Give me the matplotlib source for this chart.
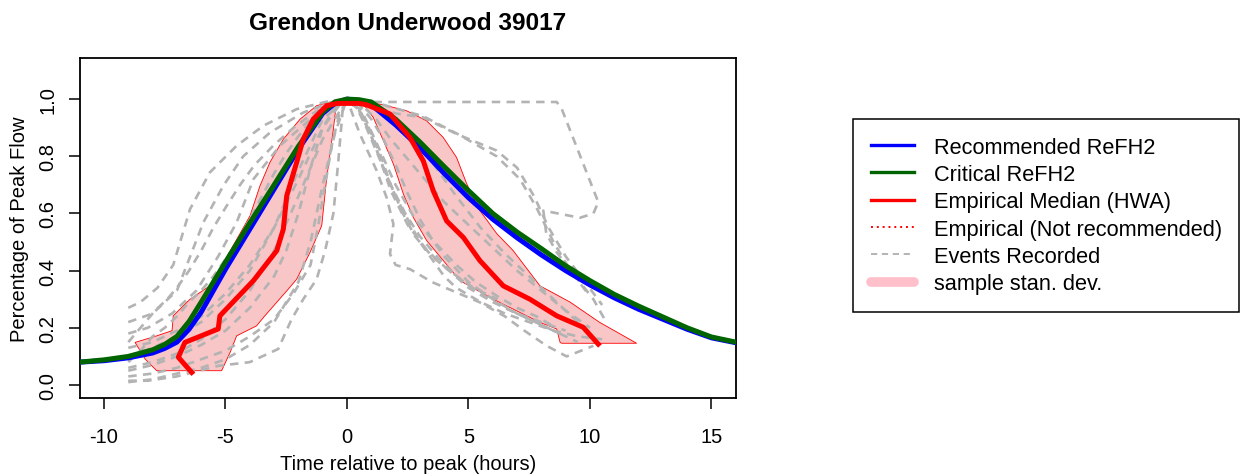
import matplotlib.pyplot as plt
from matplotlib.lines import Line2D

plt.rcParams['font.family'] = ['Liberation Sans', 'DejaVu Sans']
plt.rcParams['axes.unicode_minus'] = False

# ReFH2 design hydrographs, fraction of peak flow vs hours from peak
refh_t = [-11, -10, -9, -8, -7.5, -7, -6.5, -6, -5.5, -5, -4, -3, -2, -1, -0.5, 0, 0.5,
          1, 2, 3, 4, 5, 6, 7, 8, 9, 10, 11, 12, 13, 14, 15, 16]
recommended_v = [0.08, 0.085, 0.095, 0.112, 0.128, 0.15, 0.195, 0.255, 0.33, 0.405,
                 0.545, 0.685, 0.825, 0.95, 0.985, 1.0, 0.995, 0.98, 0.91, 0.83, 0.74,
                 0.655, 0.58, 0.515, 0.455, 0.40, 0.35, 0.305, 0.265, 0.23, 0.195,
                 0.165, 0.148]
critical_v = [0.08, 0.088, 0.10, 0.123, 0.142, 0.17, 0.222, 0.29, 0.36, 0.43, 0.567,
              0.70, 0.835, 0.955, 0.99, 1.0, 0.998, 0.99, 0.93, 0.85, 0.764, 0.68, 0.60,
              0.535, 0.477, 0.417, 0.365, 0.317, 0.276, 0.238, 0.20, 0.168, 0.15]

# empirical median hydrograph (HWA)
median_t = [-6.39, -6.94, -6.67, -5.30, -5.23, -3.85, -2.89, -2.62, -2.48, -2.07,
            -1.8, -1.39, -0.84, -0.4, 0.5, 0.81, 1.77, 2.59, 3.14, 3.55, 4.1, 4.79,
            5.47, 6.43, 7.53, 8.63, 9.72, 10.34]
median_v = [0.044, 0.097, 0.149, 0.196, 0.242, 0.365, 0.47, 0.545, 0.662, 0.779,
            0.86, 0.93, 0.977, 0.985, 0.985, 0.98, 0.948, 0.866, 0.784, 0.679, 0.574,
            0.516, 0.435, 0.347, 0.30, 0.242, 0.202, 0.143]

# sample standard deviation envelope, rising and falling limbs
rise_band_t = [-7.83, -8.3, -8.72, -7.9, -7.2, -7.15, -6.46, -5.64, -4.8, -3.99, -3.58,
               -3.17, -2.62, -1.93, -1.25, -0.7, -0.43, -0.56, -0.84, -1.04, -1.52,
               -2.07, -2.41, -3.4, -3.72, -4.54, -4.81, -5.16]
rise_band_v = [0.05, 0.09, 0.149, 0.17, 0.19, 0.242, 0.30, 0.347, 0.47, 0.592, 0.697,
               0.779, 0.86, 0.93, 0.977, 0.99, 0.99, 0.895, 0.72, 0.557, 0.464, 0.37,
               0.336, 0.24, 0.207, 0.172, 0.114, 0.05]
fall_band_t = [0.5, 1.5, 2.46, 3.28, 3.96, 4.51, 4.93, 5.47, 6.16, 6.84, 7.94, 9.18,
               10.4, 11.92, 8.84, 8.77, 8.63, 7.94, 6.02, 4.65, 3.28, 2.73, 2.32, 1.91,
               1.5, 1.08, 0.67]
fall_band_v = [0.995, 0.98, 0.959, 0.924, 0.866, 0.796, 0.703, 0.61, 0.53, 0.47, 0.347,
               0.29, 0.219, 0.146, 0.146, 0.149, 0.196, 0.219, 0.30, 0.365, 0.505, 0.586,
               0.668, 0.773, 0.854, 0.936, 0.983]

# recorded events
event_t = [
    [-9, -8.5, -7.8, -7.15, -6.46, -5.64, -4.54, -3.44, -2.07, -0.7, 0, 0.6, 1.2, 1.8,
     2.5, 3.3, 4.2, 5.2, 6.2],
    [-9, -8, -7, -5.91, -5.09, -4.27, -3.17, -1.8, -0.6, 0, 0.6, 1.2, 2.0, 2.8, 3.6,
     4.5, 5.3, 6.2, 7.0, 7.8, 8.6],
    [-9, -8.2, -7.2, -6.2, -5.3, -4.54, -3.85, -2.76, -1.5, -0.5, 0, 0.7, 1.5, 2.5, 3.5,
     4.5, 5.5, 6.5, 7.5, 8.5, 9.5],
    [-9, -8, -7, -6, -5, -4, -3, -2, -1, -0.3, 0, 2, 4, 6, 8.63, 8.84, 10.34, 10.14,
     9.59, 8.08, 8.2, 8.63, 9.4, 10.14, 10.6],
    [-9, -8, -7, -6, -5, -4, -3, -2, -1, 0, 1, 2, 3.14, 4.51, 6.16, 7.0, 7.7, 8.3, 9.0,
     9.8, 10.5],
    [-9, -8.2, -7, -5.3, -4.0, -2.83, -2.28, -1.8, -1.25, -0.9, -0.56, -0.36, -0.16, 0,
     0.53, 1.22, 1.63, 1.91, 1.77, 2.0, 2.6, 3.5, 4.5, 5.47, 6.5, 7.3, 8.22, 9.04, 10.14],
    [-9, -8, -7, -6, -5, -4, -3, -2.5, -2, -1.5, -1, -0.5, 0, 0.5, 1, 1.5, 2, 2.5, 3,
     3.5, 4, 5, 6, 7, 8, 9],
    [-9, -8, -7, -6, -5, -4, -3, -2.2, -1.5, -1.2, -0.9, -0.6, -0.3, 0, 0.4, 0.8, 1.3,
     1.8, 2.4, 3, 3.7, 4.5, 5.5, 6.5, 7.5, 8.5, 9.5],
    [-9, -8.5, -8, -7.5, -7, -6.5, -6, -5.5, -5, -4.5, -4, -3.5, -3, -2.5, -2, -1.5, -1,
     -0.5, 0, 0.6, 1.2, 1.8, 2.5, 3.2, 4, 5, 6, 7, 8, 9, 10],
    [-9, -8, -7, -6, -5, -4, -3, -2, -1.5, -1, -0.5, 0, 0.5, 1, 1.5, 2, 2.5, 3, 3.5, 4,
     4.5, 5.5, 6.5, 7.5, 8.5, 9.5, 10.5],
    [-9, -8.7, -8.3, -7.9, -7.4, -7.0, -6.5, -6.0, -5.5, -5.0, -4.4, -3.8, -3.0, -2.2,
     -1.4, -0.6, 0, 0.4, 0.9, 1.4, 1.8, 2.3, 2.8, 3.5, 4.2, 5, 6, 7, 8, 9],
    [-9, -8, -7, -6, -5, -4, -3, -2, -1, 0, 1.5, 3.14, 4.51, 6.16, 7.12, 7.8, 8.5, 9.2,
     10.0],
]
event_v = [
    [0.27, 0.29, 0.34, 0.42, 0.615, 0.744, 0.837, 0.907, 0.965, 0.994, 1.0, 0.95, 0.83,
     0.68, 0.56, 0.47, 0.40, 0.34, 0.30],
    [0.22, 0.25, 0.33, 0.569, 0.697, 0.80, 0.883, 0.953, 0.99, 1.0, 0.96, 0.85, 0.70,
     0.58, 0.50, 0.42, 0.36, 0.31, 0.27, 0.24, 0.20],
    [0.18, 0.20, 0.25, 0.33, 0.45, 0.569, 0.72, 0.837, 0.93, 0.985, 1.0, 0.99, 0.95,
     0.88, 0.78, 0.66, 0.55, 0.46, 0.38, 0.30, 0.22],
    [0.13, 0.15, 0.19, 0.24, 0.32, 0.42, 0.55, 0.72, 0.90, 0.98, 0.99, 0.99, 0.99, 0.99,
     0.99, 0.965, 0.64, 0.60, 0.585, 0.61, 0.53, 0.464, 0.38, 0.30, 0.23],
    [0.10, 0.13, 0.17, 0.22, 0.30, 0.40, 0.55, 0.75, 0.93, 1.0, 0.98, 0.95, 0.936, 0.878,
     0.82, 0.76, 0.66, 0.55, 0.45, 0.36, 0.28],
    [0.015, 0.015, 0.03, 0.067, 0.08, 0.126, 0.23, 0.30, 0.37, 0.47, 0.60, 0.78, 0.98,
     1.0, 0.878, 0.75, 0.656, 0.563, 0.458, 0.42, 0.405, 0.36, 0.324, 0.289, 0.24, 0.19,
     0.137, 0.10, 0.137],
    [0.05, 0.07, 0.10, 0.14, 0.19, 0.27, 0.38, 0.47, 0.60, 0.76, 0.90, 0.97, 1.0, 0.98,
     0.93, 0.86, 0.77, 0.67, 0.58, 0.51, 0.45, 0.36, 0.30, 0.25, 0.21, 0.17],
    [0.03, 0.04, 0.06, 0.09, 0.12, 0.17, 0.23, 0.32, 0.42, 0.55, 0.70, 0.85, 0.95, 1.0,
     0.97, 0.90, 0.80, 0.70, 0.60, 0.52, 0.45, 0.38, 0.32, 0.27, 0.23, 0.19, 0.15],
    [0.08, 0.12, 0.17, 0.20, 0.24, 0.29, 0.33, 0.38, 0.44, 0.50, 0.58, 0.66, 0.74, 0.81,
     0.87, 0.92, 0.96, 0.99, 1.0, 0.98, 0.93, 0.86, 0.79, 0.72, 0.64, 0.56, 0.48, 0.40,
     0.33, 0.26, 0.20],
    [0.01, 0.02, 0.04, 0.06, 0.09, 0.14, 0.22, 0.36, 0.50, 0.70, 0.88, 1.0, 0.96, 0.87,
     0.76, 0.66, 0.58, 0.50, 0.44, 0.38, 0.34, 0.29, 0.25, 0.22, 0.19, 0.17, 0.16],
    [0.15, 0.18, 0.22, 0.26, 0.30, 0.34, 0.40, 0.47, 0.55, 0.62, 0.70, 0.77, 0.84, 0.90,
     0.95, 0.99, 1.0, 0.97, 0.90, 0.80, 0.70, 0.60, 0.52, 0.45, 0.40, 0.34, 0.29, 0.25,
     0.22, 0.19],
    [0.06, 0.08, 0.11, 0.16, 0.23, 0.33, 0.47, 0.66, 0.86, 1.0, 0.98, 0.94, 0.88, 0.80,
     0.72, 0.62, 0.50, 0.40, 0.31],
]

fig = plt.figure(figsize=(12.49, 4.77), dpi=100)
ax = fig.add_axes([0.0638, 0.1644, 0.5253, 0.712])

pink = '#f8c6c6'
ax.fill(rise_band_t, rise_band_v, facecolor=pink, edgecolor='red', lw=0.6, zorder=1)
ax.fill(fall_band_t, fall_band_v, facecolor=pink, edgecolor='red', lw=0.6, zorder=1)

for t, v in zip(event_t, event_v):
    ax.plot(t, v, color='#b3b3b3', lw=1.9, dashes=(3.2, 2.4), zorder=2)

ax.plot(refh_t, recommended_v, color='blue', lw=3.6, zorder=3)
ax.plot(refh_t, critical_v, color='#006400', lw=3.6, zorder=4)
ax.plot(median_t, median_v, color='red', lw=3.6, zorder=5)

ax.set_xlim(-11, 16)
ax.set_ylim(-0.044, 1.144)
ax.set_xticks([-10, -5, 0, 5, 10, 15])
ax.set_yticks([0.0, 0.2, 0.4, 0.6, 0.8, 1.0])
ax.set_yticklabels(['0.0', '0.2', '0.4', '0.6', '0.8', '1.0'])
ax.tick_params(length=8, width=1.1, labelsize=14.5, color='black')
ax.tick_params(axis='x', pad=13)
ax.tick_params(axis='y', pad=8)
plt.setp(ax.get_yticklabels(), rotation=90, va='center')
for s in ax.spines.values():
    s.set_linewidth(1.3)

ax.set_xlabel('Time relative to peak (hours)', fontsize=14.5, labelpad=6)
ax.set_ylabel('Percentage of Peak Flow', fontsize=14.5, labelpad=7)
ax.set_title('Grendon Underwood 39017', fontsize=17.6, fontweight='bold', pad=21)

handles = [
    Line2D([], [], color='blue', lw=2.4),
    Line2D([], [], color='#006400', lw=2.4),
    Line2D([], [], color='red', lw=2.4),
    Line2D([], [], color='red', lw=1.4, linestyle=(0, (1, 2))),
    Line2D([], [], color='#b3b3b3', lw=1.4, dashes=(3.2, 2.4)),
    Line2D([], [], color='#ffc0cb', lw=7, solid_capstyle='round'),
]
labels = ['Recommended ReFH2', 'Critical ReFH2', 'Empirical Median (HWA)',
          'Empirical (Not recommended)', 'Events Recorded', 'sample stan. dev.']
leg = fig.legend(handles, labels, loc='upper left', bbox_to_anchor=(0.683, 0.748),
                 bbox_transform=fig.transFigure, borderaxespad=0, fontsize=15.7,
                 handlelength=2.0, handletextpad=0.9, labelspacing=0.29, borderpad=0.8,
                 fancybox=False, framealpha=1, edgecolor='black')
leg.get_frame().set_linewidth(1.1)

plt.savefig('out.png', dpi=100)
